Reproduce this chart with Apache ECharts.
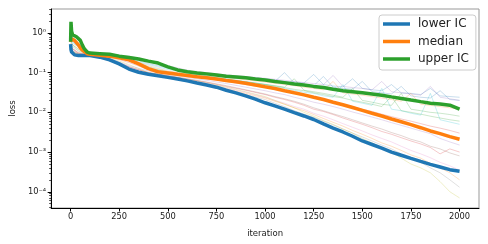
<!DOCTYPE html>
<html><head><meta charset="utf-8">
<script src="https://cdn.jsdelivr.net/npm/echarts@6/dist/echarts.min.js"></script>
<style>html,body{margin:0;padding:0;background:#fff}#c{width:488px;height:244px}</style>
</head><body><div id="c"></div><script>
const iterations = [0,2,5,10,20,30,40,50,60,70,85,100,150,200,250,300,350,400,450,500,550,600,650,700,750,800,850,900,950,1000,1050,1100,1150,1200,1250,1300,1350,1400,1450,1500,1550,1600,1650,1700,1750,1800,1850,1900,1950,2000];
const lowerIC = [0.52,0.38,0.33,0.31,0.28,0.27,0.27,0.27,0.27,0.27,0.27,0.27,
  0.245,0.21,0.166,0.123,0.102,0.091,0.083,0.076,0.069,0.062,0.055,0.049,0.043,0.036,0.031,0.026,0.0214,0.0174,0.0145,0.012,0.0098,0.0081,0.0066,0.0051,0.004,0.0032,0.0025,0.0019,0.00155,0.00126,0.001,0.00083,0.00069,0.00058,0.00049,0.00042,0.00036,0.00033];
const median = [0.6,0.72,0.75,0.7,0.65,0.6,0.5,0.42,0.37,0.33,0.3,0.29,
  0.275,0.26,0.235,0.21,0.166,0.126,0.105,0.098,0.091,0.085,0.079,0.074,0.069,0.063,0.059,0.054,0.049,0.044,0.04,0.035,0.031,0.0275,0.024,0.021,0.018,0.0155,0.0132,0.0112,0.0095,0.0081,0.0068,0.0058,0.0049,0.0041,0.0034,0.0029,0.00245,0.0021];
const upperIC = [0.6,1.9,1.1,0.9,0.85,0.8,0.78,0.65,0.5,0.4,0.33,0.31,
  0.30,0.29,0.26,0.24,0.22,0.195,0.174,0.14,0.117,0.105,0.098,0.093,0.087,0.081,0.078,0.074,0.069,0.065,0.06,0.056,0.052,0.049,0.045,0.042,0.038,0.035,0.033,0.031,0.029,0.027,0.0245,0.0224,0.0204,0.0186,0.017,0.0162,0.0151,0.012];

const runIterations = [0,10,40,100,200,300,400,500,600,700,800,900,1000,1050,1100,1150,1200,1250,1300,1350,1400,1450,1500,1550,1600,1650,1700,1750,1800,1850,1900,1950,2000];
const runs = [
  [0.9,0.7,0.5,0.3,0.28,0.24,0.19,0.14,0.11,0.095,0.085,0.078,0.07,0.066,0.06,0.058,0.055,0.09,0.05,0.046,0.044,0.07,0.04,0.037,0.035,0.05,0.031,0.03,0.028,0.04,0.026,0.025,0.024],
  [0.6,0.5,0.4,0.29,0.27,0.22,0.15,0.11,0.095,0.085,0.075,0.066,0.058,0.054,0.05,0.047,0.043,0.04,0.037,0.06,0.031,0.029,0.027,0.025,0.023,0.021,0.019,0.03,0.016,0.015,0.014,0.013,0.012],
  [0.5,0.45,0.35,0.28,0.26,0.2,0.13,0.1,0.088,0.077,0.067,0.058,0.05,0.046,0.042,0.038,0.035,0.031,0.028,0.025,0.023,0.02,0.018,0.016,0.014,0.025,0.011,0.01,0.009,0.008,0.0072,0.0065,0.006],
  [0.45,0.4,0.32,0.28,0.25,0.18,0.12,0.095,0.082,0.07,0.06,0.05,0.042,0.038,0.034,0.03,0.027,0.024,0.021,0.018,0.016,0.014,0.012,0.0105,0.009,0.0078,0.0068,0.006,0.0052,0.0045,0.004,0.0035,0.003],
  [0.55,0.38,0.3,0.27,0.23,0.15,0.11,0.09,0.076,0.064,0.053,0.043,0.035,0.031,0.028,0.024,0.021,0.018,0.016,0.014,0.012,0.0102,0.0088,0.0076,0.0065,0.0055,0.0047,0.004,0.0034,0.0029,0.0022,0.0018,0.0015],
  [0.4,0.35,0.29,0.27,0.22,0.14,0.1,0.085,0.07,0.058,0.047,0.037,0.029,0.025,0.022,0.019,0.016,0.013,0.011,0.0092,0.0078,0.0065,0.0054,0.0045,0.0038,0.0031,0.0026,0.0021,0.0018,0.0014,0.0012,0.00095,0.0008],
  [0.35,0.3,0.28,0.27,0.21,0.13,0.095,0.08,0.066,0.053,0.041,0.032,0.024,0.02,0.017,0.014,0.012,0.0095,0.008,0.0065,0.0052,0.0042,0.0034,0.0027,0.0022,0.0018,0.0014,0.0011,0.0009,0.00072,0.00055,0.00045,0.00035],
  [0.5,0.32,0.28,0.27,0.2,0.12,0.09,0.075,0.06,0.048,0.037,0.028,0.021,0.017,0.014,0.011,0.009,0.0075,0.006,0.0048,0.0038,0.003,0.0024,0.0019,0.0015,0.0012,0.0009,0.0007,0.00055,0.0004,0.0003,0.0002,0.00013],
  [0.45,0.35,0.3,0.28,0.24,0.16,0.1,0.082,0.068,0.055,0.043,0.033,0.025,0.02,0.016,0.013,0.01,0.008,0.0062,0.005,0.0038,0.003,0.0022,0.0017,0.0013,0.001,0.0007,0.0005,0.0004,0.0003,0.00018,0.0001,0.00007],
  [0.7,0.55,0.45,0.3,0.27,0.21,0.16,0.12,0.1,0.083,0.07,0.06,0.05,0.044,0.04,0.036,0.032,0.03,0.026,0.024,0.05,0.019,0.017,0.015,0.04,0.012,0.011,0.0095,0.0085,0.03,0.0065,0.0057,0.005],
  [0.8,0.6,0.45,0.3,0.28,0.23,0.17,0.13,0.105,0.09,0.08,0.072,0.065,0.06,0.1,0.055,0.05,0.047,0.08,0.043,0.04,0.038,0.06,0.033,0.031,0.029,0.045,0.026,0.024,0.023,0.035,0.021,0.02],
  [0.4,0.33,0.29,0.27,0.21,0.125,0.092,0.078,0.063,0.05,0.039,0.03,0.023,0.019,0.016,0.013,0.011,0.0088,0.007,0.0056,0.0045,0.0035,0.0028,0.0022,0.0017,0.0014,0.0011,0.00085,0.0007,0.00052,0.0004,0.0003,0.0002],
  [0.65,0.5,0.38,0.29,0.26,0.21,0.14,0.105,0.09,0.079,0.068,0.059,0.051,0.047,0.043,0.07,0.036,0.033,0.03,0.027,0.024,0.04,0.02,0.018,0.016,0.015,0.03,0.012,0.011,0.01,0.0095,0.0088,0.008],
  [0.5,0.4,0.31,0.27,0.22,0.14,0.1,0.083,0.069,0.057,0.045,0.036,0.028,0.024,0.021,0.018,0.015,0.012,0.0105,0.0088,0.0072,0.006,0.005,0.0041,0.0033,0.0028,0.0023,0.0019,0.0016,0.0013,0.0009,0.0012,0.001],
  [1.0,0.8,0.55,0.31,0.29,0.26,0.2,0.15,0.115,0.1,0.088,0.08,0.072,0.068,0.064,0.06,0.056,0.053,0.05,0.085,0.045,0.042,0.04,0.037,0.06,0.033,0.031,0.029,0.027,0.045,0.024,0.022,0.02]
];
const runColors = ['#1f77b4','#ff7f0e','#2ca02c','#d62728','#9467bd','#8c564b','#e377c2','#7f7f7f','#bcbd22','#17becf'];
const xTicks = [0,250,500,750,1000,1250,1500,1750,2000];
const yTicks = [1e-4,1e-3,1e-2,1e-1,1];
const yTickLabels = ['10\u207B\u2074','10\u207B\u00B3','10\u207B\u00B2','10\u207B\u00B9','10\u2070'];
const yMin = 3.9e-5, yMax = 4.0;

const yMinor = [];
for (let e = -5; e <= 0; e++) for (let m = 2; m <= 9; m++) { const v = m * Math.pow(10, e); if (v >= yMin && v <= yMax) yMinor.push(v); }

const pair = (xs, ys) => xs.map((x, i) => [x, ys[i]]);
const FONT = 'DejaVu Sans';
const series = [];
runs.forEach((r, i) => series.push({
  type: 'line', data: pair(runIterations, r), symbol: 'none', silent: true,
  lineStyle: { width: 0.7, color: runColors[i % runColors.length], opacity: 0.35 }, z: 1
}));
[['lower IC', lowerIC, '#1f77b4'], ['median', median, '#ff7f0e'], ['upper IC', upperIC, '#2ca02c']].forEach(([n, d, c], i) => series.push({
  name: n, type: 'line', data: pair(iterations, d), symbol: 'none', color: c,
  lineStyle: { width: 3.5, color: c }, z: 3 + i
}));

const chart = echarts.init(document.getElementById('c'), null, { renderer: 'canvas' });
chart.setOption({
  animation: false,
  backgroundColor: '#fff',
  grid: { left: 47, right: 9, top: 9, bottom: 36, show: true, borderColor: '#999', borderWidth: 1, backgroundColor: 'transparent' },
  legend: {
    data: ['lower IC', 'median', 'upper IC'], orient: 'vertical', left: 379, top: 15,
    icon: 'rect', itemWidth: 27, itemHeight: 3.5, itemGap: 3.5,
    padding: [2, 7, 4, 4], borderColor: '#ccc', borderWidth: 1, borderRadius: 3,
    backgroundColor: 'rgba(255,255,255,0.8)',
    textStyle: { fontFamily: FONT, fontSize: 12, color: '#222', lineHeight: 14, padding: [0, 0, 0, 3] }
  },
  xAxis: {
    type: 'value', min: -100, max: 2100, name: 'iteration', nameLocation: 'middle', nameGap: 21,
    nameTextStyle: { fontFamily: FONT, fontSize: 8.5, color: '#222' },
    axisLine: { onZero: false, lineStyle: { color: '#000', width: 1 } },
    axisTick: { customValues: xTicks, length: 3.5, lineStyle: { color: '#000' } },
    axisLabel: { customValues: xTicks, fontFamily: FONT, fontSize: 8.3, color: '#222', margin: 5, formatter: v => String(v) },
    splitLine: { show: false }
  },
  yAxis: [{
    type: 'log', logBase: 10, min: yMin, max: yMax, name: 'loss', nameLocation: 'middle', nameGap: 32,
    nameTextStyle: { fontFamily: FONT, fontSize: 8.5, color: '#222' },
    axisLine: { show: true, onZero: false, lineStyle: { color: '#000', width: 1 } },
    axisTick: { show: true, customValues: yTicks, length: 3.5, lineStyle: { color: '#000' } },
    axisLabel: { customValues: yTicks, fontFamily: FONT, fontSize: 8.3, color: '#222', margin: 5,
      formatter: v => yTickLabels[Math.round(Math.log10(v)) + 4] },
    splitLine: { show: false }, minorTick: { show: false }
  }, {
    type: 'log', logBase: 10, min: yMin, max: yMax, position: 'left',
    axisLine: { show: false, onZero: false },
    axisTick: { show: true, customValues: yMinor, length: 2, lineStyle: { color: '#000', width: 0.7 } },
    axisLabel: { show: false }, splitLine: { show: false }
  }],
  series: series
});
</script></body></html>
